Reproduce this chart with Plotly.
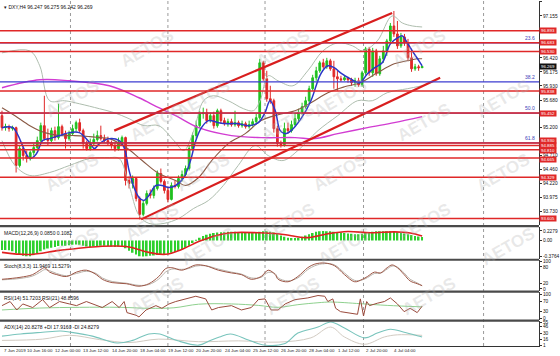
import plotly.graph_objects as go

# ------------------------------------------------------------------ data
header = "DXY,H4 96.247 96.275 96.242 96.269"

open_ = [95.407, 95.197, 95.215, 95.180, 95.197, 94.534, 94.830, 94.708, 94.656, 94.761,
         94.848, 94.970, 95.232, 95.005, 94.970, 95.145, 95.023, 95.215, 95.092, 95.005,
         95.092, 95.180, 95.285, 95.145, 94.918, 94.830, 94.918, 94.988, 95.058, 95.005,
         94.970, 94.935, 94.883, 94.830, 94.935, 95.023, 94.272, 94.219, 94.306, 93.957,
         93.678, 93.870, 94.044, 94.010, 94.132, 94.394, 94.254, 94.097, 93.940, 94.184,
         94.167, 94.306, 94.376, 94.481, 94.830, 95.058, 95.232, 95.442, 95.459, 95.320,
         95.407, 95.232, 95.494, 95.320, 95.267, 95.302, 95.250, 95.285, 95.232, 95.267,
         95.215, 95.250, 95.302, 95.372, 96.333, 96.053, 95.704, 95.669, 95.180, 94.918,
         94.900, 95.180, 95.145, 95.250, 95.354, 95.459, 95.564, 95.669, 95.879, 96.071,
         96.193, 96.333, 96.263, 96.368, 96.228, 96.088, 96.053, 96.036, 96.071, 96.036,
         95.983, 96.018, 95.948, 96.158, 96.577, 96.158, 96.542, 96.141, 96.403, 96.542,
         96.717, 96.979, 96.839, 96.630, 96.787, 96.682, 96.420, 96.228, 96.263, 96.247]
high_ = [95.494, 95.267, 95.250, 95.232, 95.215, 94.883, 94.865, 94.796, 94.796, 94.918,
         95.040, 95.285, 95.756, 95.180, 95.197, 95.215, 95.616, 95.250, 95.145, 95.145,
         95.250, 95.320, 95.354, 95.180, 94.970, 95.005, 95.092, 95.145, 95.232, 95.075,
         95.040, 94.970, 94.935, 95.023, 95.058, 95.040, 94.341, 94.359, 94.324, 93.992,
         93.922, 94.097, 94.114, 94.184, 94.446, 94.481, 94.289, 94.167, 94.237, 94.272,
         94.359, 94.446, 94.534, 94.883, 95.110, 95.320, 95.494, 95.547, 95.529, 95.459,
         95.477, 95.529, 95.529, 95.372, 95.354, 95.354, 95.494, 95.320, 95.320, 95.302,
         95.320, 95.354, 95.442, 96.403, 96.368, 96.193, 95.931, 95.704, 95.232, 94.970,
         95.285, 95.285, 95.320, 95.459, 95.529, 95.634, 95.739, 95.931, 96.123, 96.263,
         96.368, 96.403, 96.420, 96.403, 96.368, 96.193, 96.106, 96.106, 96.088, 96.071,
         96.071, 96.071, 96.193, 96.612, 96.612, 96.595, 96.577, 96.455, 96.630, 96.752,
         97.031, 97.241, 97.066, 96.857, 96.839, 96.752, 96.577, 96.315, 96.298, 96.275]
low_ = [95.145, 95.145, 95.127, 95.145, 94.411, 94.499, 94.621, 94.586, 94.621, 94.708,
        94.796, 94.918, 94.970, 94.883, 94.935, 94.970, 94.988, 95.058, 94.830, 94.970,
        95.058, 95.127, 95.110, 94.830, 94.796, 94.796, 94.883, 94.953, 94.970, 94.935,
        94.883, 94.830, 94.778, 94.796, 94.883, 94.184, 94.132, 94.132, 93.905, 93.590,
        93.643, 93.835, 93.957, 93.957, 94.097, 94.219, 94.044, 93.887, 93.922, 94.132,
        94.132, 94.254, 94.341, 94.446, 94.796, 95.005, 95.197, 95.354, 95.267, 95.285,
        95.180, 95.197, 95.267, 95.232, 95.215, 95.215, 95.215, 95.197, 95.197, 95.180,
        95.180, 95.215, 95.267, 95.337, 96.018, 95.651, 95.616, 95.110, 94.865, 94.848,
        94.865, 95.092, 95.110, 95.215, 95.302, 95.424, 95.529, 95.634, 95.844, 96.018,
        96.158, 96.228, 96.228, 96.193, 95.879, 95.844, 96.001, 96.018, 95.983, 95.931,
        95.913, 95.913, 95.913, 96.123, 96.106, 96.088, 96.106, 96.106, 96.333, 96.455,
        96.665, 96.787, 96.577, 96.595, 96.630, 96.368, 96.175, 96.193, 96.193, 96.242]
close_ = [95.197, 95.215, 95.180, 95.197, 94.534, 94.830, 94.708, 94.656, 94.761, 94.848,
          94.970, 95.232, 95.005, 94.970, 95.145, 95.023, 95.215, 95.092, 95.005, 95.092,
          95.180, 95.285, 95.145, 94.918, 94.830, 94.918, 94.988, 95.058, 95.005, 94.970,
          94.935, 94.883, 94.830, 94.935, 95.023, 94.272, 94.219, 94.306, 93.957, 93.678,
          93.870, 94.044, 94.010, 94.132, 94.394, 94.254, 94.097, 93.940, 94.184, 94.167,
          94.306, 94.376, 94.481, 94.830, 95.058, 95.232, 95.442, 95.459, 95.320, 95.407,
          95.232, 95.494, 95.320, 95.267, 95.302, 95.250, 95.285, 95.232, 95.267, 95.215,
          95.250, 95.302, 95.372, 96.333, 96.053, 95.704, 95.669, 95.180, 94.918, 94.900,
          95.180, 95.145, 95.250, 95.354, 95.459, 95.564, 95.669, 95.879, 96.071, 96.193,
          96.333, 96.263, 96.368, 96.228, 96.088, 96.053, 96.036, 96.071, 96.036, 95.983,
          96.018, 95.948, 96.158, 96.577, 96.158, 96.542, 96.141, 96.403, 96.542, 96.717,
          96.979, 96.839, 96.630, 96.787, 96.682, 96.420, 96.228, 96.263, 96.247, 96.269]
bars = list(range(len(close_)))

# fast MA (blue)
blue_x = [0, 3.1, 7.9, 9.8, 11.5, 13.5, 16.3, 19.1, 21.9, 24.8, 26.2, 27.6, 30.4, 33.2, 34.6,
          36, 37.4, 38.8, 40.2, 41.6, 43.6, 45.3, 47.3, 49.2, 51.5, 53.4, 54.9, 56.5, 58.5,
          61.3, 64.1, 66.9, 69.8, 72.6, 74.5, 75.9, 77.4, 78.8, 80.2, 81.9, 84.7, 87.5, 90.3,
          92.3, 94.2, 95.9, 98.7, 101.3, 103.5, 105.5, 107.7, 110, 112, 113.4, 114.8, 116.2,
          118.1, 119]
blue_y = [95.197, 95.197, 94.656, 94.743, 94.970, 95.005, 95.058, 95.110, 95.110, 94.935,
          94.830, 94.918, 95.005, 94.970, 94.848, 94.446, 94.149, 93.975, 93.922, 94.010,
          94.184, 94.184, 94.149, 94.184, 94.324, 94.621, 94.970, 95.197, 95.320, 95.285,
          95.267, 95.267, 95.232, 95.285, 95.459, 95.669, 95.494, 95.145, 95.092, 95.145,
          95.354, 95.669, 96.141, 96.280, 96.245, 96.158, 96.053, 95.983, 96.141, 96.245,
          96.333, 96.665, 96.769, 96.804, 96.682, 96.542, 96.368, 96.280]
# medium MA (brown)
brown_x = [0, 3.7, 7.9, 12.1, 16.3, 20.5, 24.8, 27.6, 30.4, 35.2, 39.7, 44.4, 49.2, 52, 55.7,
           59.4, 64.1, 68.9, 73.4, 78.2, 83, 87.5, 92.3, 97, 101.5, 106.3, 111.1, 114.8, 117.6, 119]
brown_y = [95.547, 95.407, 95.232, 95.110, 95.058, 95.058, 95.040, 95.023, 95.005, 94.848,
           94.621, 94.394, 94.272, 94.184, 94.324, 94.621, 94.918, 95.092, 95.320, 95.424,
           95.494, 95.634, 95.809, 95.913, 95.983, 96.158, 96.315, 96.368, 96.403, 96.403]
# slow MA (magenta)
mag_x = [0, 10.7, 19.1, 30.4, 38.8, 44.4, 49.2, 55.7, 65, 73.4, 83, 88.6, 95.1, 103.5, 111.1, 119]
mag_y = [95.896, 96.036, 96.018, 95.931, 95.721, 95.547, 95.407, 95.197, 95.058, 95.023,
         95.023, 95.005, 95.092, 95.197, 95.285, 95.390]
# Bollinger bands
bbu_x = [0, 7.9, 10.7, 13.5, 17.7, 21.9, 27.6, 31.8, 36, 40.2, 44.4, 48.7, 51.5, 54.3, 57.1,
         59.9, 64.1, 68.4, 71.2, 73.1, 75.4, 78.2, 82.4, 86.6, 90.9, 95.1, 99.3, 102.1, 106.3,
         110.5, 113.4, 116.2, 119]
bbu_y = [96.507, 96.542, 96.280, 95.669, 95.669, 95.616, 95.529, 95.459, 95.354, 95.232,
         95.232, 94.970, 94.796, 95.145, 95.669, 95.756, 95.669, 95.529, 95.494, 95.669,
         96.106, 96.018, 95.931, 96.193, 96.542, 96.682, 96.630, 96.542, 96.717, 97.154,
         97.031, 96.979, 96.961]
bbl_x = [0, 3.7, 7.9, 13.5, 19.1, 24.8, 30.4, 33.2, 36, 38.8, 41.6, 45.9, 50.1, 54.3, 58.5,
         62.7, 66.9, 71.7, 75.4, 79.6, 83.8, 89.5, 95.1, 100.7, 104.9, 109.1, 114.8, 119]
bbl_y = [94.970, 94.534, 94.359, 94.411, 94.534, 94.656, 94.673, 94.656, 94.184, 93.660,
         93.520, 93.520, 93.608, 93.782, 93.922, 94.184, 94.534, 94.883, 94.708, 94.621,
         94.796, 95.145, 95.407, 95.669, 95.669, 95.809, 95.879, 95.931]

# horizontal levels and trend channel
red_levels = [96.893, 96.683, 96.530, 95.838, 95.452, 94.930, 94.885, 94.810, 94.665, 94.329, 93.605]
fib_levels = [96.683, 96.000, 95.452, 94.930]
fib_names = ["23.6", "38.2", "50.0", "61.8"]
chan_up_x = [31.8, 110.5]
chan_up_y = [95.145, 97.206]
chan_lo_x = [39.4, 124.1]
chan_lo_y = [93.590, 96.071]
last_price = 96.269

# price scale labels that stay visible beside the boxed level labels
price_ticks = [93.485, 93.730, 93.975, 94.220, 94.460, 94.710, 95.200,
               95.680, 95.930, 96.175, 96.420, 97.155, 97.400]

# MACD
macd_hist = [-0.22, -0.22, -0.23, -0.25, -0.30, -0.34, -0.36, -0.37, -0.37, -0.34,
             -0.30, -0.25, -0.21, -0.19, -0.17, -0.15, -0.13, -0.12, -0.12, -0.11,
             -0.10, -0.09, -0.10, -0.12, -0.14, -0.15, -0.14, -0.13, -0.12, -0.12,
             -0.13, -0.14, -0.15, -0.14, -0.13, -0.18, -0.24, -0.29, -0.33, -0.37,
             -0.376, -0.37, -0.36, -0.35, -0.34, -0.33, -0.32, -0.31, -0.29, -0.27,
             -0.24, -0.21, -0.17, -0.12, -0.06, 0.01, 0.07, 0.11, 0.14, 0.16,
             0.18, 0.19, 0.20, 0.20, 0.21, 0.21, 0.21, 0.20, 0.20, 0.20,
             0.20, 0.20, 0.20, 0.21, 0.22, 0.22, 0.21, 0.19, 0.16, 0.12,
             0.09, 0.07, 0.06, 0.06, 0.07, 0.09, 0.12, 0.15, 0.18, 0.21,
             0.22, 0.2279, 0.22, 0.22, 0.21, 0.20, 0.19, 0.18, 0.17, 0.16,
             0.15, 0.15, 0.16, 0.18, 0.20, 0.21, 0.22, 0.22, 0.22, 0.22,
             0.22, 0.21, 0.20, 0.19, 0.17, 0.15, 0.13, 0.11, 0.095, 0.085]
sig_x = [0, 7.9, 16.3, 27.6, 35.2, 41.6, 46.4, 50.9, 55.7, 60.5, 65, 72.6, 78.2, 81.9,
         86.6, 92.3, 97.9, 104.4, 111.1, 115.6, 119]
sig_y = [-0.279, -0.33, -0.232, -0.139, -0.139, -0.279, -0.325, -0.209, -0.023, 0.116,
         0.186, 0.186, 0.163, 0.116, 0.070, 0.163, 0.215, 0.186, 0.205, 0.180, 0.108]

# Stochastic
st_x = [0, 5.1, 8.7, 10.7, 12.1, 13.5, 15.5, 18.3, 21.1, 23.9, 26.7, 28.4, 31.2, 35.2, 38.8,
        41.6, 44.4, 46.4, 48.1, 50.9, 52.9, 54.9, 57.7, 61.3, 65, 67.8, 70.6, 73.4, 75.4,
        77.4, 78.2, 81, 83.8, 86.6, 88.6, 91.4, 94.2, 97, 99.9, 102.1, 103.5, 105.5, 107.2,
        109.1, 110.5, 112, 113.9, 115.6, 117.6, 119]
st_k = [35, 42, 52, 68, 77, 61, 52, 45, 61, 68, 52, 35, 23, 19, 10, 19, 45, 74, 77, 68,
        77, 87, 84, 68, 58, 52, 35, 45, 68, 52, 35, 26, 45, 77, 90, 94, 84, 52, 26, 35,
        45, 61, 58, 77, 87, 77, 52, 29, 19, 11.95]
st_d = [33, 38, 47, 60, 70, 66, 56, 48, 56, 64, 56, 40, 27, 21, 13, 16, 36, 62, 72, 71,
        74, 83, 84, 72, 61, 54, 40, 42, 60, 55, 40, 29, 40, 70, 84, 92, 87, 58, 31, 33,
        41, 56, 57, 72, 83, 79, 58, 35, 22, 11.53]

# RSI
rsi_x = [0, 2.3, 4.2, 5.9, 8.7, 11.5, 13.5, 16.3, 19.1, 21.1, 23.9, 25.6, 28.4, 31.2, 33.2,
         34.6, 35.4, 38, 38.8, 40.8, 43.6, 45.3, 47.3, 49.2, 52, 54.9, 57.7, 59.4, 61.3, 65,
         67.8, 70.6, 72.6, 74.5, 76.2, 78.2, 80.2, 83, 86.6, 89.5, 91.4, 92.3, 93.7, 94.5,
         95.9, 97.9, 100.7, 101.5, 102.4, 103.3, 104.1, 106.3, 108.3, 110, 112, 113.9, 115.6,
         117.6, 119]
rsi_a = [54, 71, 36, 61, 46, 79, 46, 71, 61, 54, 71, 61, 46, 71, 46, 71, 25, 14, 7, 36,
         54, 43, 61, 71, 82, 93, 82, 36, 46, 54, 36, 46, 79, 82, 36, 36, 61, 79, 86, 96,
         93, 71, 82, 43, 29, 25, 18, 82, 11, 71, 54, 64, 71, 86, 61, 29, 43, 25, 51.72]
rsi2_x = [0, 10.7, 21.9, 33.2, 41.6, 48.7, 55.7, 65, 72.6, 78.2, 83.8, 89.5, 93.1, 101.5, 109.1, 119]
rsi_b = [36, 44, 47, 47, 43, 45, 60, 61, 55, 47, 58, 66, 69, 62, 55, 48.86]

# ADX
adx_x = [0, 5.3, 11.5, 16.6, 19.4, 25.6, 32.6, 36.6, 41.6, 44.7, 49.8, 55.7, 58.8, 61.6,
         64.7, 69.8, 73.7, 79.9, 83.8, 89.5, 93.1, 97, 102.7, 106.3, 110, 113.9, 117.6, 119]
adx_v = [23, 28, 32, 35, 32, 23, 7, 12, 28, 28, 12, 2, 12, 21, 28, 14, 3, 5, 30, 44, 56,
         42, 19, 30, 39, 32, 24, 20.83]
mdi_x = [0, 11.5, 19.1, 27.6, 36, 44.4, 55.7, 67, 78.2, 87.5, 93.1, 97, 102.7, 108.3, 112, 119]
mdi_v = [13, 16, 25, 15, 8, 16, 10, 12, 9, 19, 44, 21, 4, 21, 26, 24.83]

time_labels = ["7 Jun 2019", "10 Jun 16:00", "12 Jun 00:00", "13 Jun 12:00", "14 Jun 20:00",
               "18 Jun 04:00", "19 Jun 12:00", "20 Jun 20:00", "24 Jun 04:00", "25 Jun 12:00",
               "26 Jun 20:00", "28 Jun 04:00", "1 Jul 12:00", "2 Jul 20:00", "4 Jul 04:00"]
time_label_bars = [0, 6.5, 14.5, 22.5, 30.5, 38.5, 46.5, 54.5, 62.5, 70.5, 78.5, 86.5, 94.5, 102.5, 110.5]
vgrid_bars = [19.4, 47.0, 74.5, 102.4, 136.4]

# ------------------------------------------------------------------ layout helpers
W, H_PLOT = 560, 346
FONT = "Liberation Sans"
RED = "#e02828"
GREEN = "#21c021"
XR = [-0.56, 152.1]


def dom(top_px, bot_px):
    return [(H_PLOT - bot_px) / H_PLOT, (H_PLOT - top_px) / H_PLOT]


def py(px):
    return (H_PLOT - px) / H_PLOT


fig = go.Figure()

# main pane
fig.add_trace(go.Scatter(x=bbu_x, y=bbu_y, mode="lines", line=dict(color="#aebdae", width=1, shape="spline"), yaxis="y"))
fig.add_trace(go.Scatter(x=bbl_x, y=bbl_y, mode="lines", line=dict(color="#aebdae", width=1, shape="spline"), yaxis="y"))
fig.add_trace(go.Scatter(x=mag_x, y=mag_y, mode="lines", line=dict(color="#d23cd2", width=1.4, shape="spline"), yaxis="y"))
fig.add_trace(go.Candlestick(x=bars, open=open_, high=high_, low=low_, close=close_,
                             increasing=dict(line=dict(color=GREEN, width=1), fillcolor=GREEN),
                             decreasing=dict(line=dict(color=RED, width=1), fillcolor=RED),
                             whiskerwidth=0, yaxis="y"))
fig.add_trace(go.Scatter(x=brown_x, y=brown_y, mode="lines", line=dict(color="#8a5a45", width=1.1, shape="spline"), yaxis="y"))
fig.add_trace(go.Scatter(x=blue_x, y=blue_y, mode="lines", line=dict(color="#2a36c8", width=1.5, shape="spline"), yaxis="y"))
fig.add_trace(go.Scatter(x=chan_up_x, y=chan_up_y, mode="lines", line=dict(color="#d81e1e", width=2.2), yaxis="y"))
fig.add_trace(go.Scatter(x=chan_lo_x, y=chan_lo_y, mode="lines", line=dict(color="#d81e1e", width=2.2), yaxis="y"))

# MACD
fig.add_trace(go.Bar(x=bars, y=macd_hist, marker=dict(color="#2ed02e", line=dict(width=0)), width=0.5, yaxis="y2"))
fig.add_trace(go.Scatter(x=sig_x, y=sig_y, mode="lines", line=dict(color="#e02020", width=1.6, shape="spline"), yaxis="y2"))
# Stochastic
fig.add_trace(go.Scatter(x=st_x, y=st_d, mode="lines", line=dict(color="#b9b2aa", width=1, shape="spline"), yaxis="y3"))
fig.add_trace(go.Scatter(x=st_x, y=st_k, mode="lines", line=dict(color="#9c5545", width=1, shape="spline"), yaxis="y3"))
# RSI
fig.add_trace(go.Scatter(x=rsi2_x, y=rsi_b, mode="lines", line=dict(color="#8ed08e", width=1, shape="spline"), yaxis="y4"))
fig.add_trace(go.Scatter(x=rsi_x, y=rsi_a, mode="lines", line=dict(color="#9a4a3c", width=1), yaxis="y4"))
# ADX
fig.add_trace(go.Scatter(x=mdi_x, y=mdi_v, mode="lines", line=dict(color="#d2cbc2", width=1, shape="spline"), yaxis="y5"))
fig.add_trace(go.Scatter(x=adx_x, y=adx_v, mode="lines", line=dict(color="#78c4bc", width=1.1, shape="spline"), yaxis="y5"))

tickfont = dict(family=FONT, size=4.8, color="#111")
axis_common = dict(side="right", showgrid=False, zeroline=False, showline=True, linecolor="#333",
                   linewidth=1, ticks="outside", ticklen=2, tickcolor="#333", tickfont=tickfont,
                   anchor="x", fixedrange=True)

shapes = []
# vertical dotted grid
for b in vgrid_bars:
    shapes.append(dict(type="line", xref="x", yref="paper", x0=b, x1=b, y0=0, y1=1,
                       line=dict(color="#9a9a9a", width=1, dash="dot"), layer="below"))
# fib lines (blue) then red levels
for lv in fib_levels:
    shapes.append(dict(type="line", xref="paper", yref="y", x0=0, x1=1, y0=lv, y1=lv,
                       line=dict(color="#3c3cd0", width=1.2)))
for lv in red_levels:
    shapes.append(dict(type="line", xref="paper", yref="y", x0=0, x1=1, y0=lv, y1=lv,
                       line=dict(color=RED, width=1.5)))
# pane separators
for sp in [225.8, 259.5, 291.5, 320.5]:
    shapes.append(dict(type="line", xref="paper", yref="paper", x0=0, x1=1, y0=py(sp), y1=py(sp),
                       line=dict(color="#4a4a4a", width=2.2)))

ann = []
small = dict(family=FONT, size=5, color="#111")
ann.append(dict(text="\u25be " + header, xref="paper", yref="paper", x=0.004, y=py(1), xanchor="left",
                yanchor="top", showarrow=False, font=small))
ann.append(dict(text="MACD(12,26,9) 0.0850 0.1082", xref="paper", yref="paper", x=0.004, y=py(227.5),
                xanchor="left", yanchor="top", showarrow=False, font=small))
ann.append(dict(text="Stoch(8,3,3) 11.9469 11.5279", xref="paper", yref="paper", x=0.004, y=py(260.5),
                xanchor="left", yanchor="top", showarrow=False, font=small))
ann.append(dict(text="RSI(14) 51.7203 RSI(21) 48.8596", xref="paper", yref="paper", x=0.004, y=py(292.5),
                xanchor="left", yanchor="top", showarrow=False, font=small))
ann.append(dict(text="ADX(14) 20.8278 +DI 17.9160 -DI 24.8279", xref="paper", yref="paper", x=0.004,
                y=py(321.5), xanchor="left", yanchor="top", showarrow=False, font=small))
for t, b in zip(time_labels, time_label_bars):
    ann.append(dict(text=t, xref="x", yref="paper", x=b, y=py(351), xanchor="left", yanchor="middle",
                    showarrow=False, font=dict(family=FONT, size=4.4, color="#222")))
# boxed level labels (small vertical nudges keep stacked labels apart)
label_shift = {94.930: 2, 94.810: -1, 94.665: -1.6}
for lv in red_levels:
    ann.append(dict(text="%.3f" % lv, xref="paper", yref="y", x=1.0, y=lv, xanchor="left", yanchor="middle",
                    showarrow=False, bgcolor=RED, borderpad=0, width=16, height=4.5,
                    yshift=label_shift.get(lv, 0),
                    font=dict(family=FONT, size=4.4, color="white")))
ann.append(dict(text="%.3f" % last_price, xref="paper", yref="y", x=1.0, y=last_price, xanchor="left",
                yanchor="middle", showarrow=False, bgcolor="#111", borderpad=0, width=16, height=4.5,
                font=dict(family=FONT, size=4.4, color="white")))
for lv, nm in zip(fib_levels, fib_names):
    ann.append(dict(text=nm, xref="paper", yref="y", x=0.997, y=lv, xanchor="right", yanchor="bottom",
                    showarrow=False, font=dict(family=FONT, size=5, color="#3c3cb8")))
# AETOS watermark
wm_rows = [(22, [115, 285, 455]), (72, [40, 205, 375, 540]), (122, [125, 290, 460]),
           (172, [40, 205, 375, 540]), (222, [120, 290, 460]), (272, [40, 210, 380, 545]),
           (322, [125, 295, 465])]
for yy, xs in wm_rows:
    for xx in xs:
        ann.append(dict(text="<b>AETOS</b>", xref="paper", yref="paper", x=xx / 543.0, y=py(yy),
                        showarrow=False, textangle=-30,
                        font=dict(family=FONT, size=17, color="rgba(175,175,175,0.28)")))

fig.update_layout(
    width=W, height=356, margin=dict(l=0, r=17, t=0, b=10),
    paper_bgcolor="white", plot_bgcolor="white", showlegend=False, hovermode=False,
    font=dict(family=FONT, size=6, color="#111"),
    bargap=0.4,
    xaxis=dict(range=XR, domain=[0, 1], anchor="y5", showgrid=False, zeroline=False,
               showticklabels=False, showline=True, linecolor="#333", fixedrange=True,
               rangeslider=dict(visible=False)),
    yaxis=dict(domain=dom(0, 225), range=[93.4855, 97.416], tickvals=price_ticks,
               ticktext=["%.3f" % v for v in price_ticks], **axis_common),
    yaxis2=dict(domain=dom(226.5, 259), range=[-0.4416, 0.325], tickvals=[0.2279, 0, -0.3764],
                ticktext=["0.2279", "0.00", "-0.3764"], **axis_common),
    yaxis3=dict(domain=dom(260, 291), range=[-8, 104], tickvals=[0, 20, 80, 100], **axis_common),
    yaxis4=dict(domain=dom(292, 320), range=[-6, 110], tickvals=[0, 30, 70, 100], **axis_common),
    yaxis5=dict(domain=dom(321, 346), range=[0, 58], tickvals=[1, 16, 30, 46, 55], **axis_common),
    shapes=shapes, annotations=ann,
)

fig.write_html("out.html", config={"displayModeBar": False},
               post_script="document.body.style.margin='0';document.body.style.padding='0';"
                           "document.body.style.overflow='hidden';")
